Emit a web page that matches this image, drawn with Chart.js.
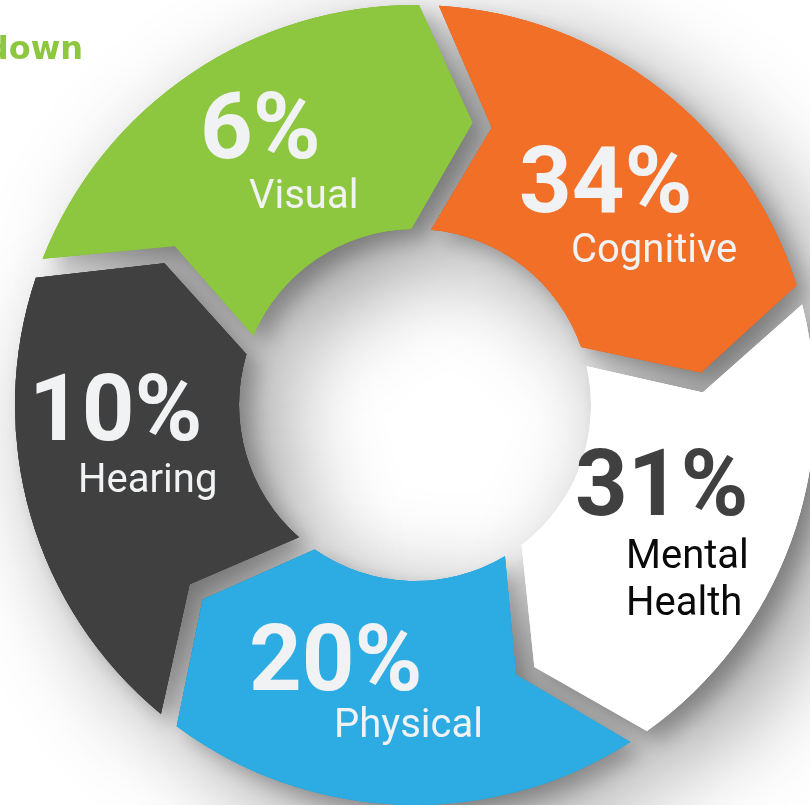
<!DOCTYPE html>
<html>
<head>
<meta charset="utf-8">
<script src="https://cdn.jsdelivr.net/npm/chart.js@4.4.1/dist/chart.umd.min.js"></script>
<style>
  html, body { margin: 0; padding: 0; background: #fff; overflow: hidden; }
  #wrap { width: 810px; height: 805px; }
</style>
</head>
<body>
<div id="wrap"><canvas id="chart" width="810" height="805"></canvas></div>
<script>
const categories = ['Cognitive', 'Mental Health', 'Physical', 'Hearing', 'Visual'];
const percents = [34, 31, 20, 10, 6];
// in the graphic every segment takes the same fifth of the ring
const ringShare = [20, 20, 20, 20, 20];
const titleText = 'Breakdown';

const colors = ['#f26f28', '#ffffff', '#2cace2', '#404040', '#8dc63f'];
const pctColors = ['#f1f2f4', '#404040', '#f1f2f4', '#f1f2f4', '#f1f2f4'];
const nameColors = ['#f1f2f4', '#0a0a0a', '#f1f2f4', '#f1f2f4', '#f1f2f4'];

// label spots relative to the ring centre: [pctX, pctY, nameX, nameY]
const labelPos = [
  [104, -193, 156, -143],
  [160, 110, 211, 163],
  [-166, 285, -81, 332],
  [-386, 35, -337, 87],
  [-215, -247, -166, -197]
];

const halfGap = 10;                   // px, half of the grey notch between segments
const tipTurn = 11.5 * Math.PI / 180; // how far the chevron point leans forward

function pt(cx, cy, a, r) {
  return [cx + r * Math.cos(a), cy + r * Math.sin(a)];
}

function chevronPath(ctx, arc) {
  const p = arc.getProps(['x', 'y', 'startAngle', 'endAngle', 'innerRadius', 'outerRadius'], true);
  const x = p.x, y = p.y, s = p.startAngle, e = p.endAngle;
  const rI = p.innerRadius, rO = p.outerRadius, rM = (rI + rO) / 2;
  ctx.beginPath();
  ctx.arc(x, y, rO, s + halfGap / rO, e - halfGap / rO);
  ctx.lineTo(...pt(x, y, e + tipTurn - halfGap / rM, rM));
  ctx.lineTo(...pt(x, y, e - halfGap / rI, rI));
  ctx.arc(x, y, rI, e - halfGap / rI, s + halfGap / rI, true);
  ctx.lineTo(...pt(x, y, s + tipTurn + halfGap / rM, rM));
  ctx.closePath();
}

const chevronPlugin = {
  id: 'chevrons',
  beforeDatasetsDraw(chart) {
    const ctx = chart.ctx;
    const arcs = chart.getDatasetMeta(0).data;

    // cut-off title in the corner
    ctx.save();
    ctx.font = 'bold 32px "DejaVu Sans"';
    ctx.fillStyle = '#8dc63f';
    ctx.textAlign = 'right';
    ctx.textBaseline = 'alphabetic';
    ctx.fillText(titleText, 83, 59);
    ctx.restore();

    // soft shadow, a wide faint pass then a tight darker one
    const shadows = [
      ['rgba(0,0,0,0.42)', 100, 34, 30],
      ['rgba(0,0,0,0.25)', 20, 12, 10]
    ];
    shadows.forEach(sh => {
      ctx.save();
      ctx.shadowColor = sh[0];
      ctx.shadowBlur = sh[1];
      ctx.shadowOffsetX = sh[2];
      ctx.shadowOffsetY = sh[3];
      arcs.forEach((a, i) => {
        chevronPath(ctx, a);
        ctx.fillStyle = colors[i];
        ctx.fill();
      });
      ctx.restore();
    });

    // clean pass
    arcs.forEach((a, i) => {
      chevronPath(ctx, a);
      ctx.fillStyle = colors[i];
      ctx.fill();
    });

    // labels
    const cx = arcs[0].x, cy = arcs[0].y;
    ctx.save();
    ctx.textAlign = 'left';
    ctx.textBaseline = 'alphabetic';
    arcs.forEach((a, i) => {
      const lp = labelPos[i];
      ctx.font = 'bold 92px Roboto';
      ctx.fillStyle = pctColors[i];
      ctx.fillText(percents[i] + '%', cx + lp[0], cy + lp[1]);
      ctx.font = '40px Roboto';
      ctx.fillStyle = nameColors[i];
      categories[i].split(' ').forEach((w, k) => {
        ctx.fillText(w, cx + lp[2], cy + lp[3] + k * 47);
      });
    });
    ctx.restore();
    return false;
  }
};

new Chart(document.getElementById('chart'), {
  type: 'doughnut',
  data: {
    labels: categories,
    datasets: [{
      data: ringShare,
      backgroundColor: colors,
      borderWidth: 0,
      radius: 400,
      cutout: '44%'
    }]
  },
  options: {
    responsive: false,
    animation: false,
    rotation: 2,
    layout: { padding: { left: 20, top: 5, right: 0, bottom: 0 } },
    plugins: {
      legend: { display: false },
      tooltip: { enabled: false }
    }
  },
  plugins: [chevronPlugin]
});
</script>
</body>
</html>
